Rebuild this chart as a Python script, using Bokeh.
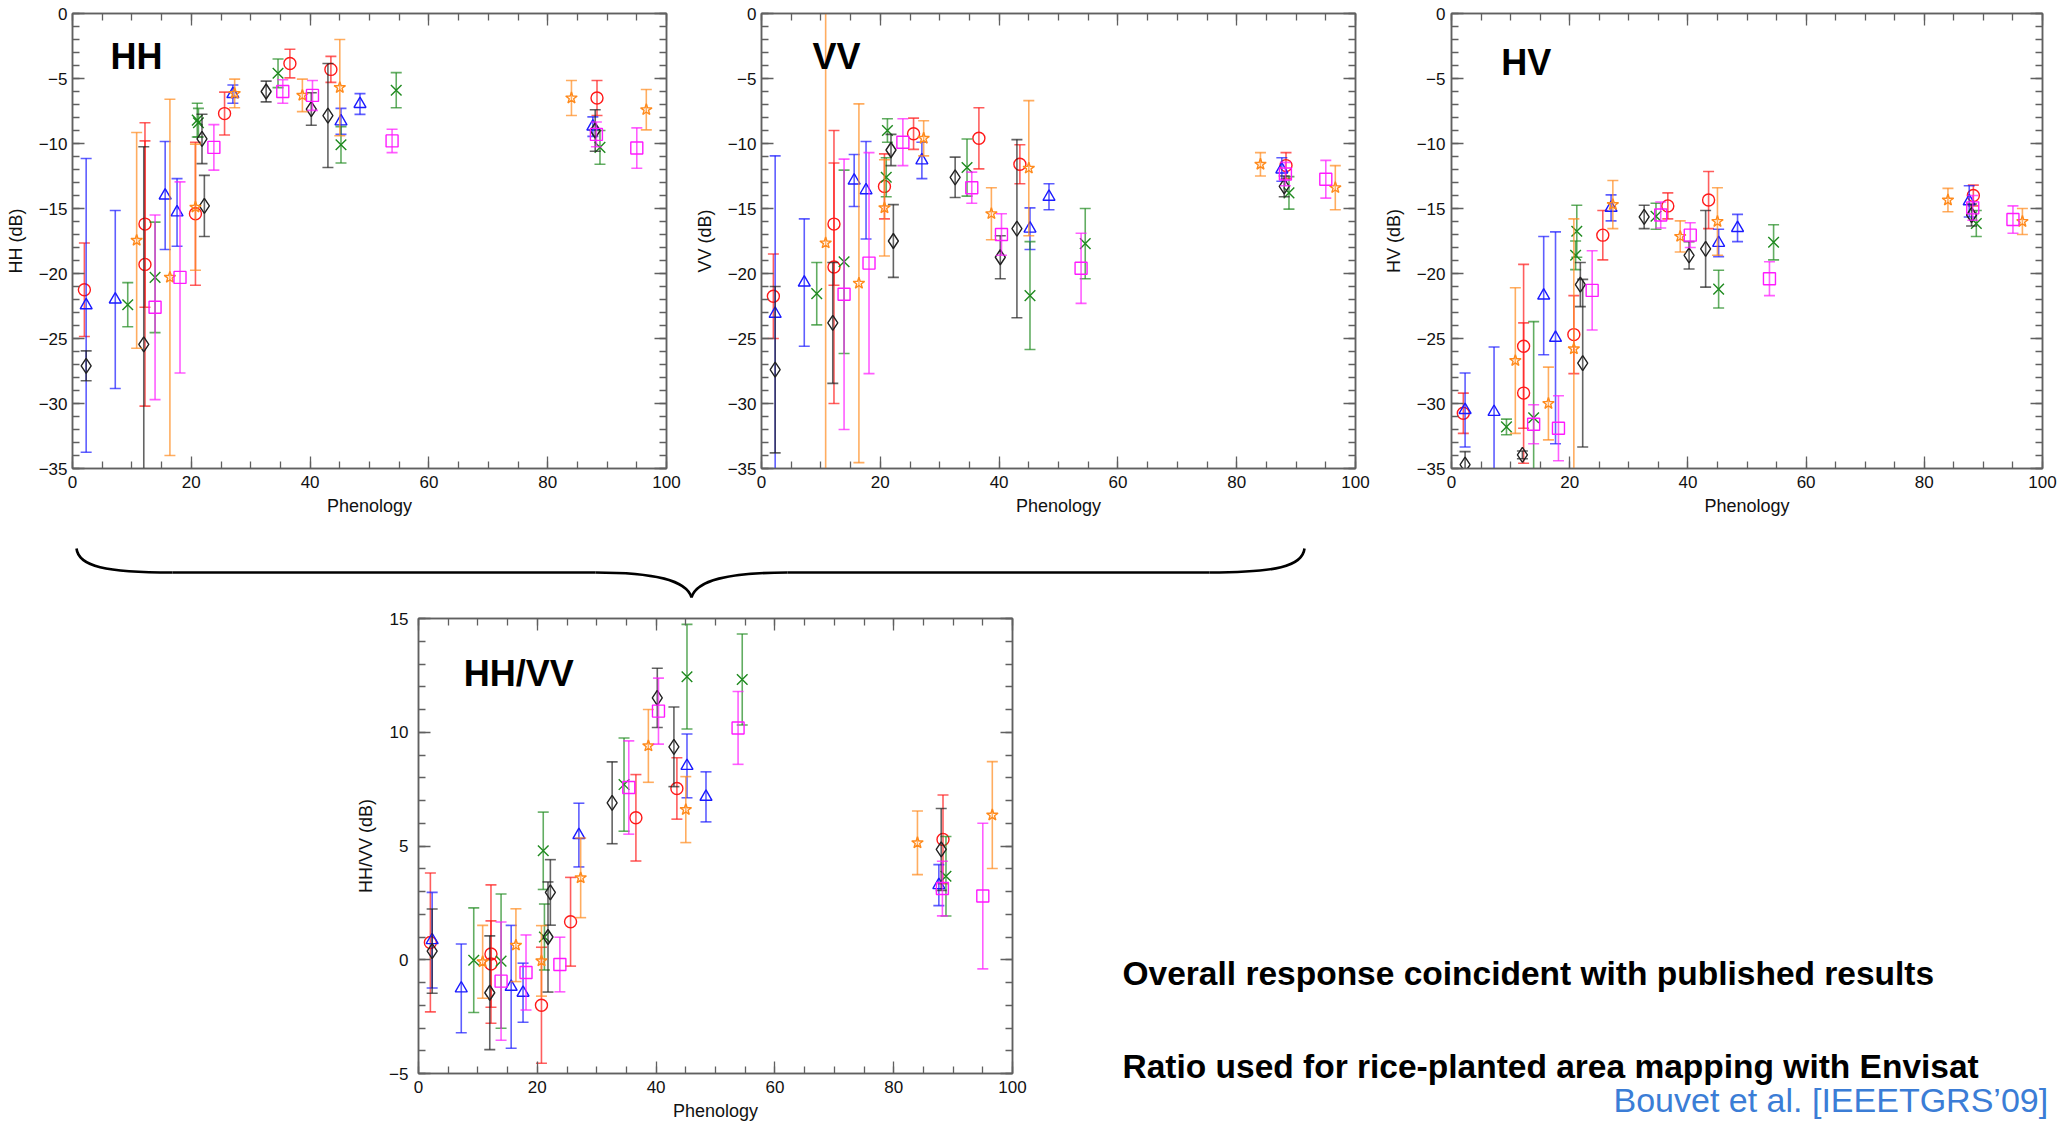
import numpy as np
from bokeh.plotting import figure
from bokeh.models import Range1d, LinearAxis, FixedTicker, CustomJSTickFormatter, Spacer
from bokeh.core.properties import value
from bokeh.layouts import column, row
from bokeh.embed import file_html
from bokeh.resources import INLINE

# ---------------- data ----------------
# phenology positions of each series (shared by the four panels)
red_x = [2.0, 12.2, 12.2, 20.7, 25.6, 36.6, 43.5, 88.3]
blue_x = [2.3, 7.2, 15.6, 17.6, 27.0, 45.2, 48.4, 87.6]
green_x = [9.3, 13.9, 21.0, 21.2, 34.6, 45.2, 54.5, 88.8]
black_x = [2.3, 12.0, 21.8, 22.2, 32.6, 40.2, 43.0, 88.0]
orange_x = [10.8, 16.4, 20.7, 27.3, 38.7, 45.0, 84.0, 96.6]
magenta_x = [13.9, 18.1, 23.8, 35.4, 40.4, 53.8, 88.2, 95.0]

# HH (dB)
red_hh = [-21.25, -16.2, -19.3, -15.4, -7.7, -3.85, -4.3, -6.5]
red_hh_err = [3.6, 6.4, 10.9, 5.5, 1.65, 1.1, 1.0, 1.35]
blue_hh = [-22.45, -22.0, -14.0, -15.3, -6.2, -8.3, -6.96, -8.7]
blue_hh_err = [11.3, 6.85, 4.15, 2.6, 0.7, 1.0, 0.8, 0.75]
green_hh = [-22.4, -20.3, -8.2, -8.4, -4.6, -10.1, -5.9, -10.3]
green_hh_err = [1.7, 4.25, 1.3, 1.1, 1.1, 1.4, 1.35, 1.3]
black_hh = [-27.1, -25.45, -9.65, -14.8, -6.0, -7.35, -7.85, -9.0]
black_hh_err = [1.15, 15.2, 1.9, 2.35, 0.8, 1.25, 4.0, 1.6]
orange_hh = [-17.45, -20.3, -14.9, -6.15, -6.3, -5.7, -6.5, -7.4]
orange_hh_err = [8.3, 13.7, 4.85, 1.1, 1.25, 3.7, 1.35, 1.55]
magenta_hh = [-22.6, -20.3, -10.3, -6.0, -6.3, -9.8, -9.3, -10.35]
magenta_hh_err = [7.1, 7.35, 1.75, 0.9, 1.15, 0.9, 0.95, 1.55]

# VV (dB)
red_vv = [-21.75, -16.2, -19.5, -13.3, -9.25, -9.6, -11.6, -11.7]
red_vv_err = [3.25, 4.7, 10.5, 2.5, 1.2, 2.35, 1.5, 1.0]
blue_vv = [-23.1, -20.7, -12.85, -13.6, -11.3, -16.55, -14.1, -12.0]
blue_vv_err = [12.15, 4.9, 2.0, 3.75, 1.4, 1.6, 1.0, 0.9]
green_vv = [-21.55, -19.1, -12.6, -9.0, -11.85, -21.7, -17.7, -13.8]
green_vv_err = [2.4, 7.05, 1.5, 0.9, 2.2, 4.15, 2.7, 1.25]
black_vv = [-27.4, -23.8, -10.5, -17.5, -12.6, -18.75, -16.55, -13.3]
black_vv_err = [6.4, 4.65, 1.2, 2.8, 1.55, 1.65, 6.85, 0.8]
orange_vv = [-17.65, -20.75, -14.95, -9.6, -15.4, -11.9, -11.6, -13.4]
orange_vv_err = [20.0, 13.8, 3.7, 1.35, 2.0, 5.2, 0.9, 1.7]
magenta_vv = [-21.6, -19.2, -9.9, -13.4, -17.0, -19.6, -12.35, -12.75]
magenta_vv_err = [10.4, 8.5, 1.8, 1.2, 1.6, 2.7, 0.9, 1.45]

# HV (dB)
red_hv = [-30.75, -25.6, -29.2, -24.7, -17.05, -14.8, -14.35, -14.0]
red_hv_err = [1.55, 6.3, 5.4, 3.0, 1.9, 1.0, 2.2, 0.8]
blue_hv = [-30.5, -30.65, -21.7, -24.95, -14.95, -17.65, -16.5, -14.45]
blue_hv_err = [2.85, 5.0, 4.55, 8.15, 1.0, 1.05, 1.05, 1.2]
green_hv = [-31.8, -31.1, -18.6, -16.75, -15.6, -21.2, -17.6, -16.15]
green_hv_err = [0.6, 7.4, 1.1, 2.0, 1.0, 1.45, 1.35, 1.0]
black_hv = [-34.7, -33.95, -20.85, -26.9, -15.65, -18.6, -18.1, -15.5]
black_hv_err = [1.0, 0.3, 1.7, 6.45, 0.9, 1.05, 2.95, 0.85]
orange_hv = [-26.7, -30.0, -25.8, -14.7, -17.15, -16.0, -14.35, -16.0]
orange_hv_err = [5.6, 2.8, 10.0, 1.85, 1.2, 2.6, 0.9, 1.0]
magenta_hv = [-31.6, -31.9, -21.3, -15.5, -17.05, -20.4, -14.95, -15.85]
magenta_hv_err = [1.5, 2.5, 3.05, 1.0, 0.95, 1.3, 0.95, 1.05]

# HH/VV (dB)
red_ratio = [0.76, 0.25, -0.19, -2.0, 1.67, 6.24, 7.53, 5.29]
red_ratio_err = [3.05, 3.04, 1.9, 2.55, 1.95, 1.9, 1.35, 1.95]
blue_ratio = [0.86, -1.26, -1.19, -1.45, 5.48, 8.52, 7.16, 3.28]
blue_ratio_err = [2.1, 1.95, 2.7, 1.3, 1.4, 1.4, 1.1, 0.9]
green_ratio = [-0.02, -0.06, 4.79, 1.0, 7.7, 12.44, 12.32, 3.67]
green_ratio_err = [2.3, 2.95, 1.7, 1.45, 2.05, 2.3, 2.0, 1.75]
black_ratio = [0.38, -1.45, 1.0, 2.96, 6.9, 11.51, 9.36, 4.85]
black_ratio_err = [1.85, 2.5, 2.42, 1.44, 1.8, 1.3, 1.75, 1.8]
orange_ratio = [-0.09, 0.64, -0.05, 3.6, 9.4, 6.6, 5.14, 6.36]
orange_ratio_err = [1.6, 1.6, 1.55, 1.75, 1.6, 1.45, 1.4, 2.35]
magenta_ratio = [-0.94, -0.56, -0.21, 7.57, 10.93, 10.19, 3.13, 2.8]
magenta_ratio_err = [2.6, 1.65, 1.2, 2.05, 1.45, 1.6, 1.2, 3.2]

x_major = [0, 20, 40, 60, 80, 100]
x_minor = list(range(0, 101, 5))
db_major = [-35, -30, -25, -20, -15, -10, -5, 0]
db_minor = list(range(-35, 1))
ratio_major = [-5, 0, 5, 10, 15]
ratio_minor = list(range(-5, 16))

texts = ["Overall response coincident with published results",
         "Ratio used for rice-planted area mapping with Envisat"]
citation = "Bouvet et al. [IEEETGRS\u201909]"

# ---------------- styling ----------------
SANS = "Liberation Sans, Arial, sans-serif"
FRAME = "#606060"

series = [
    ("#ff1a1a", "circle", 12),
    ("#1a1aff", "triangle", 12),
    ("#1f8a1f", "x", 15),
    ("#222222", "diamond", 15),
    ("#ff8a1c", "star", 12),
    ("#ff1aff", "square", 12),
]
xs = [red_x, blue_x, green_x, black_x, orange_x, magenta_x]
panels_data = {
    "hh": [(red_hh, red_hh_err), (blue_hh, blue_hh_err), (green_hh, green_hh_err),
           (black_hh, black_hh_err), (orange_hh, orange_hh_err), (magenta_hh, magenta_hh_err)],
    "vv": [(red_vv, red_vv_err), (blue_vv, blue_vv_err), (green_vv, green_vv_err),
           (black_vv, black_vv_err), (orange_vv, orange_vv_err), (magenta_vv, magenta_vv_err)],
    "hv": [(red_hv, red_hv_err), (blue_hv, blue_hv_err), (green_hv, green_hv_err),
           (black_hv, black_hv_err), (orange_hv, orange_hv_err), (magenta_hv, magenta_hv_err)],
    "ratio": [(red_ratio, red_ratio_err), (blue_ratio, blue_ratio_err), (green_ratio, green_ratio_err),
              (black_ratio, black_ratio_err), (orange_ratio, orange_ratio_err), (magenta_ratio, magenta_ratio_err)],
}

minus_fmt = "return tick < 0 ? '\u2212' + Math.abs(tick) : '' + tick;"


def style_axis(ax, ticks, minor, labelled, standoff=5, label_standoff=8):
    ax.ticker = FixedTicker(ticks=ticks, minor_ticks=minor)
    ax.axis_line_color = FRAME
    ax.axis_line_width = 1.5
    ax.major_tick_line_color = FRAME
    ax.minor_tick_line_color = FRAME
    ax.major_tick_line_width = 1.3
    ax.minor_tick_line_width = 1.3
    ax.major_tick_in = 12
    ax.major_tick_out = 0
    ax.minor_tick_in = 7
    ax.minor_tick_out = 0
    if labelled:
        ax.formatter = CustomJSTickFormatter(code=minus_fmt)
        ax.major_label_text_font = SANS
        ax.major_label_text_font_size = "17px"
        ax.major_label_text_color = "#111111"
        ax.major_label_standoff = standoff
        ax.axis_label_text_font = SANS
        ax.axis_label_text_font_size = "18px"
        ax.axis_label_text_font_style = "normal"
        ax.axis_label_text_color = "#111111"
        ax.axis_label_standoff = label_standoff
    else:
        ax.major_label_text_font_size = "0px"
        ax.major_label_text_color = None
        ax.major_label_standoff = 0


def make_panel(key, title, ylabel, yr, ymaj, ymin, width, height, bl, br, bt, bb,
               title_xy, ystandoff):
    p = figure(width=width, height=height, x_range=Range1d(0, 100), y_range=Range1d(*yr),
               output_backend="svg", toolbar_location=None, title=None,
               min_border_left=bl, min_border_right=br, min_border_top=bt, min_border_bottom=bb)
    p.grid.visible = False
    p.outline_line_color = FRAME
    p.outline_line_width = 1.5
    p.background_fill_color = "white"
    p.border_fill_color = "white"
    p.xaxis.axis_label = "Phenology"
    p.yaxis.axis_label = ylabel
    style_axis(p.xaxis[0], x_major, x_minor, True, standoff=7, label_standoff=5)
    style_axis(p.yaxis[0], ymaj, ymin, True, standoff=ystandoff, label_standoff=10)
    top = LinearAxis()
    style_axis(top, x_major, x_minor, False)
    p.add_layout(top, "above")
    right = LinearAxis()
    style_axis(right, ymaj, ymin, False)
    p.add_layout(right, "right")

    for (color, marker, size), x, (vals, errs) in zip(series, xs, panels_data[key]):
        x = np.array(x)
        v = np.array(vals)
        e = np.array(errs)
        lo, hi = v - e, v + e
        p.segment(x0=x, y0=lo, x1=x, y1=hi, line_color=color, line_alpha=0.7, line_width=1.6)
        p.scatter(x=x, y=lo, marker="dash", size=11, line_color=color, line_alpha=0.7, line_width=1.6)
        p.scatter(x=x, y=hi, marker="dash", size=11, line_color=color, line_alpha=0.7, line_width=1.6)
        p.scatter(x=x, y=v, marker=marker, size=size, line_color=color, fill_color=None, line_width=1.4)

    p.text(x=[title_xy[0]], y=[title_xy[1]], text=[title], text_font=value(SANS),
           text_font_style="bold", text_font_size="36px", text_color="black",
           text_baseline="alphabetic", text_align="left")
    return p


p_hh = make_panel("hh", "HH", "HH (dB)", (-35, 0), db_major, db_minor,
                  690, 525, 72, 24, 13, 57, (6.4, -3.3), 5)
p_vv = make_panel("vv", "VV", "VV (dB)", (-35, 0), db_major, db_minor,
                  690, 525, 71, 25, 13, 57, (8.6, -3.3), 5)
p_hv = make_panel("hv", "HV", "HV (dB)", (-35, 0), db_major, db_minor,
                  683, 525, 67, 21, 13, 57, (8.4, -3.8), 6)
p_ratio = make_panel("ratio", "HH/VV", "HH/VV (dB)", (-5, 15), ratio_major, ratio_minor,
                     740, 519, 78, 68, 13, 51, (7.6, 12.6), 10)

# curly brace linking the three upper panels to the ratio panel
brace = figure(width=2063, height=80, x_range=Range1d(0, 2063), y_range=Range1d(605, 525),
               x_axis_type=None, y_axis_type=None, output_backend="svg", toolbar_location=None,
               title=None, min_border=0, outline_line_color=None)
brace.frame_align = False
brace.grid.visible = False
bx0 = [76, 595, 787, 1304]
by0 = [548, 572, 572, 548]
bx1 = [172, 691, 691, 1209]
by1 = [572, 597, 597, 572]
bcx0 = [78, 655, 727, 1302]
bcy0 = [566, 572, 572, 566]
bcx1 = [105, 686, 696, 1275]
bcy1 = [572, 580, 580, 572]
brace.bezier(x0=bx0, y0=by0, x1=bx1, y1=by1, cx0=bcx0, cy0=bcy0, cx1=bcx1, cy1=bcy1,
             line_color="black", line_width=2.6)
brace.segment(x0=[172, 787], y0=[572, 572], x1=[595, 1209], y1=[572, 572],
              line_color="black", line_width=2.6)

# text block on the lower right (coordinates in page pixels)
tfig = figure(width=983, height=519, x_range=Range1d(1080, 2063), y_range=Range1d(1124, 605),
              x_axis_type=None, y_axis_type=None, output_backend="svg", toolbar_location=None,
              title=None, min_border=0, outline_line_color=None)
tfig.frame_align = False
tfig.grid.visible = False
tfig.text(x=[1122, 1122], y=[973, 1066], text=texts, text_font=value(SANS),
          text_font_style="bold", text_font_size="33.5px", text_color="black",
          text_baseline="alphabetic", text_align="left")
tfig.text(x=[1613], y=[1099], text=[citation], text_font=value(SANS),
          text_font_size="34px", text_color="#3b7dd6",
          text_baseline="alphabetic", text_align="left")

layout = column(row(p_hh, p_vv, p_hv),
                brace,
                row(Spacer(width=340, height=519), p_ratio, tfig))

open("out.html", "w").write(file_html(layout, INLINE))
